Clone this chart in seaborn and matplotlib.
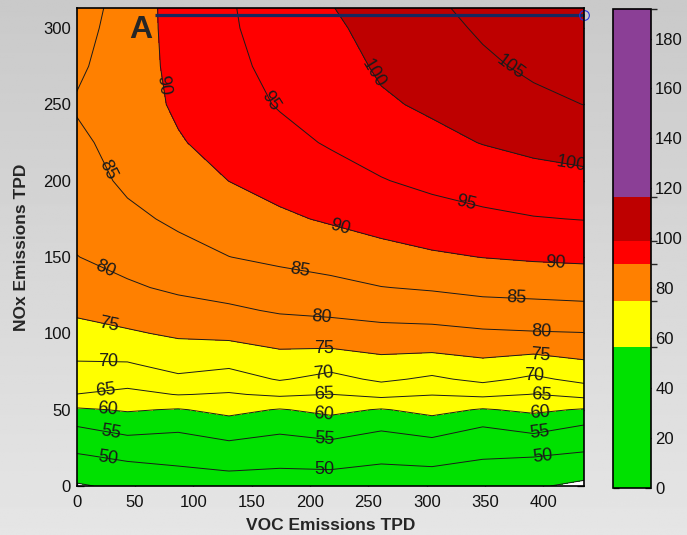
import numpy as np
import matplotlib
matplotlib.use("Agg")
import matplotlib.pyplot as plt
from matplotlib.colors import ListedColormap, BoundaryNorm
import matplotlib.cm as cm
import seaborn as sns

# ---------------- data ----------------
voc = [0, 43.5, 87, 130.5, 174, 217.5, 261, 304.5, 348, 391.5, 435]
nox = [0, 10, 20, 30, 40, 50, 60, 70, 80, 90, 100, 115, 130, 150, 175, 200,
       225, 250, 275, 300, 313]

# ozone (ppb) along NOx for each VOC column
o3_voc_000 = [44.5, 47.07, 49.64, 52.40, 55.28, 59.35, 64.94, 67.31, 69.65, 71.56, 73.39,
              75.74, 77.52, 79.90, 81.36, 82.76, 84.16, 85.4, 84.2, 83.08, 82.5]
o3_voc_043 = [46.0, 48.41, 51.01, 53.99, 57.16, 60.44, 63.79, 66.83, 69.69, 72.10, 74.46,
              77.01, 79.38, 81.53, 83.91, 85.9, 86.6, 87.4, 87.6, 87.4, 87.2]
o3_voc_087 = [47.2, 49.34, 51.49, 53.64, 56.27, 59.69, 65.16, 69.09, 71.61, 73.70, 75.68,
              78.38, 80.76, 83.30, 85.86, 87.71, 89.56, 90.8, 91.3, 91.7, 91.9]
o3_voc_130 = [47.5, 50.05, 52.56, 55.09, 58.14, 61.29, 64.60, 67.84, 70.92, 73.72, 76.13,
              79.25, 81.80, 84.95, 87.54, 90.04, 92.0, 93.3, 94.1, 94.5, 94.6]
o3_voc_174 = [47.5, 49.66, 51.80, 53.95, 56.59, 59.72, 65.76, 70.38, 72.74, 75.09, 77.31,
              80.47, 82.92, 85.96, 89.23, 91.62, 93.73, 95.30, 96.05, 96.81, 97.2]
o3_voc_217 = [47.3, 49.82, 52.36, 54.90, 57.93, 61.19, 64.93, 68.48, 71.79, 74.94, 77.58,
              81.04, 83.71, 86.95, 90.53, 93.19, 95.4, 96.65, 97.9, 99.15, 99.8]
o3_voc_261 = [46.8, 49.02, 51.23, 53.42, 56.02, 59.67, 66.36, 70.86, 73.46, 75.99, 78.41,
              81.75, 84.88, 88.30, 91.79, 94.76, 97.09, 99.36, 100.68, 101.61, 102.1]
o3_voc_304 = [46.8, 49.32, 51.86, 54.41, 57.79, 61.44, 65.16, 69.16, 72.65, 75.82, 78.55,
              82.18, 85.48, 89.33, 92.99, 96.11, 98.74, 100.75, 102.2, 103.65, 104.4]
o3_voc_348 = [46.0, 48.29, 50.57, 52.87, 55.30, 59.61, 66.03, 71.17, 73.97, 76.66, 79.29,
              83.03, 86.32, 90.08, 93.98, 97.23, 100.16, 102.21, 104.26, 105.55, 106.0]
o3_voc_391 = [45.5, 47.84, 50.25, 53.44, 57.01, 60.94, 64.88, 69.04, 72.75, 76.25, 79.63,
              83.34, 86.65, 90.58, 94.75, 98.18, 101.26, 104.01, 105.74, 106.9, 107.5]
o3_voc_435 = [44.0, 46.67, 49.33, 52.14, 55.0, 59.59, 66.56, 71.32, 74.24, 77.07, 79.86,
              83.68, 86.98, 90.88, 95.15, 98.80, 102.06, 105.05, 106.42, 107.79, 108.5]

fill_levels = [45, 60, 75, 90, 100, 120]
line_levels = [50, 55, 60, 65, 70, 75, 80, 85, 90, 95, 100, 105]
floor_level = [45]
cbar_bounds = [0, 56.6, 74.7, 89.7, 98.8, 116.7, 191.7]
cbar_ticks = [0, 20, 40, 60, 80, 100, 120, 140, 160, 180]
x_ticks = [0, 50, 100, 150, 200, 250, 300, 350, 400]
y_ticks = [0, 50, 100, 150, 200, 250, 300]
bar_voc = [67, 435]
bar_nox = [308.7, 308.7]

# ---------------- style ----------------
sns.set_theme(style="ticks")
plt.rcParams["font.family"] = ["Liberation Sans", "DejaVu Sans"]

fill_colors = ["#00E100", "#FFFF00", "#FF8000", "#FF0000", "#BE0000"]
cbar_colors = fill_colors + ["#8B3F96"]

fig = plt.figure(figsize=(6.87, 5.35), dpi=100)

# soft grey gradient background
bg = fig.add_axes([0, 0, 1, 1], zorder=-10)
grad = np.linspace(0.79, 0.90, 256).reshape(-1, 1)
bg.imshow(np.repeat(grad, 4, axis=1), cmap="gray", vmin=0, vmax=1,
          aspect="auto", extent=[0, 1, 0, 1], origin="upper")
bg.set_axis_off()

ax = fig.add_axes([0.1116, 0.0916, 0.7389, 0.8929])
ax.set_facecolor("white")

Z = np.column_stack([o3_voc_000, o3_voc_043, o3_voc_087, o3_voc_130, o3_voc_174,
                     o3_voc_217, o3_voc_261, o3_voc_304, o3_voc_348, o3_voc_391,
                     o3_voc_435])
X, Y = np.meshgrid(voc, nox)

ax.contourf(X, Y, Z, levels=fill_levels, colors=fill_colors, zorder=1)
ax.contour(X, Y, Z, levels=floor_level, colors="k", linewidths=0.7, zorder=2)
cs = ax.contour(X, Y, Z, levels=line_levels, colors="k", linewidths=0.7, zorder=2)

label_pos = [(26, 16), (212, 11), (400, 18),
             (29, 34), (212, 30), (397, 35),
             (26, 49), (212, 47), (397, 48),
             (25, 62), (212, 60), (398, 60),
             (27, 81), (212, 74), (392, 72),
             (27, 105), (212, 90), (397, 85),
             (23, 139), (210, 109), (398, 101),
             (18, 204), (191, 139), (377, 122),
             (71, 262), (224, 166), (410, 145),
             (160, 250), (333, 184),
             (247, 267), (423, 208),
             (367, 269)]
ax.clabel(cs, manual=label_pos, inline=False, fontsize=13, fmt="%d", colors="k")

ax.plot(bar_voc, bar_nox, color="#17295E", lw=2.3, solid_capstyle="butt", zorder=5,
        clip_on=False)
ax.plot(bar_voc[-1:], bar_nox[-1:], marker="o", ms=7, mfc="none", mec="#2233DD",
        mew=0.8, zorder=6, clip_on=False)
ax.text(54.7, 299, "A", fontsize=23, fontweight="bold", ha="center", va="center",
        zorder=6)

ax.set_xlim(0, 435)
ax.set_ylim(0, 313)
ax.set_xticks(x_ticks)
ax.set_yticks(y_ticks)
ax.tick_params(direction="in", top=True, right=True, length=5, width=0.9,
               labelsize=12, colors="black", labelcolor="#111111")
ax.tick_params(axis="x", pad=6.5)
ax.tick_params(axis="y", pad=4)
for s in ax.spines.values():
    s.set_linewidth(1.2)
    s.set_color("black")
    s.set_zorder(7)
ax.set_xlabel("VOC Emissions TPD", fontsize=12.5, fontweight="bold", labelpad=6)
ax.set_ylabel("NOx Emissions TPD", fontsize=12.5, fontweight="bold", labelpad=10)

# colorbar
cax = fig.add_axes([0.8927, 0.0879, 0.0549, 0.8947])
norm = BoundaryNorm(cbar_bounds, len(cbar_colors))
sm = cm.ScalarMappable(norm=norm, cmap=ListedColormap(cbar_colors))
cb = fig.colorbar(sm, cax=cax, spacing="proportional", ticks=cbar_ticks)
cb.outline.set_linewidth(1.2)
cb.outline.set_edgecolor("black")
cax.tick_params(direction="in", left=True, right=True, length=4, width=0.9,
                labelsize=12, pad=3, colors="black", labelcolor="#111111")

fig.savefig("out.png", dpi=100)
